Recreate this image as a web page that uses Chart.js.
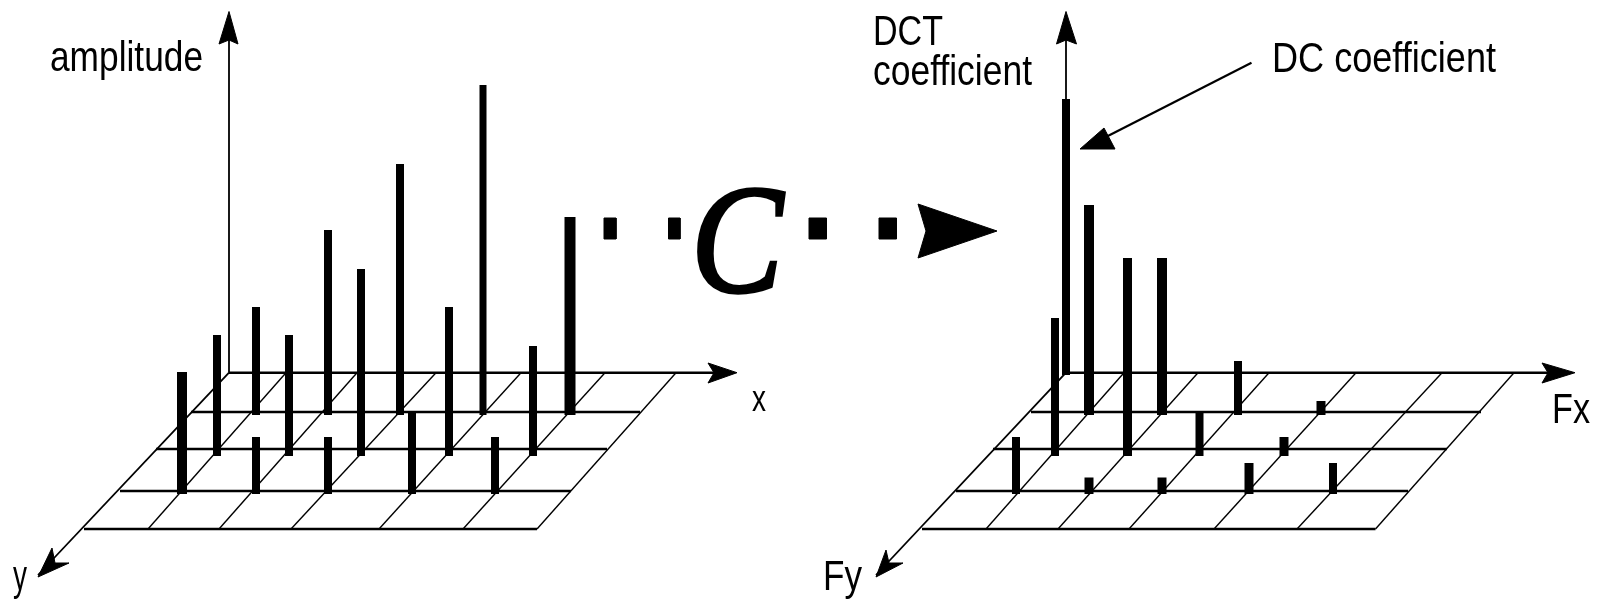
<!DOCTYPE html>
<html>
<head>
<meta charset="utf-8">
<style>
html,body{margin:0;padding:0;background:#fff;overflow:hidden}
canvas{display:block;filter:blur(0.7px)}
</style>
<script src="https://cdn.jsdelivr.net/npm/chart.js@4"></script>
</head>
<body>
<canvas id="c" width="1600" height="603"></canvas>
<script>
// Horizontal grid rows, shared by both plots
const gridRows = [372.7, 412, 449, 491, 529];

// Left plot (amplitude in x,y)
const leftRowStart = [229, 191, 156, 120, 84];
const leftRowEnd = [722, 640, 607, 571, 537];
const leftSlantBack = [286, 357, 436, 521, 605, 676];
const leftSlantFront = [148, 219, 291, 379, 463, 537];
const leftStemX = [182, 217, 256, 289, 328, 361, 400, 449, 483, 533, 570, 256, 328, 412, 495];
const leftStemTop = [372, 335, 307, 335, 230, 269, 164, 307, 85, 346, 217, 437, 437, 413, 437];
const leftStemBase = [494, 456, 415, 456, 415, 456, 415, 456, 415, 456, 415, 494, 494, 494, 494];
const leftStemWidth = [10, 8, 8, 8, 8, 8, 8, 8, 7, 8, 11, 8, 8, 8, 8];

// Right plot (DCT coefficients in Fx,Fy)
const rightRowStart = [1066, 1031, 993, 956, 922];
const rightRowEnd = [1555, 1481, 1447, 1408, 1375.5];
const rightSlantBack = [1124, 1198, 1269, 1356, 1442, 1514];
const rightSlantFront = [986, 1058, 1129, 1214, 1297, 1375.5];
const rightStemX = [1066, 1055, 1089, 1127.5, 1162, 1238, 1199.5, 1321, 1284, 1016, 1089, 1162, 1249, 1333];
const rightStemTop = [99, 318, 205, 258, 258, 361, 413, 401, 437, 437, 477.5, 477.5, 463, 463];
const rightStemBase = [375, 456, 415, 456, 415, 415, 456, 415, 456, 494, 494, 494, 494, 494];
const rightStemWidth = [8, 8, 10, 9, 10, 8, 8, 9, 9, 8, 9, 9, 9, 8];

// Arrow heads and axis lines
const axisLinesX = [[229, 229], [229, 38], [1066, 1066], [1066, 876], [1251.5, 1100]];
const axisLinesY = [[372.7, 30], [372.7, 575], [372.7, 30], [372.7, 575], [62.7, 140]];
const headShapesX = [
  [229, 219, 229, 238, 229], [737, 708, 714, 708, 737],
  [38, 52, 55, 69, 38],
  [1066, 1056.5, 1066, 1076.5, 1066], [1575, 1542, 1548, 1542, 1575],
  [876, 886, 889, 903, 876],
  [1080, 1104, 1115, 1080],
  [997, 918, 926, 918, 997]
];
const headShapesY = [
  [11.5, 44, 40, 44, 11.5], [372.7, 363, 372.7, 383, 372.7],
  [577, 548, 563, 563, 577],
  [11.5, 44, 40, 44, 11.5], [372.7, 363, 372.7, 383, 372.7],
  [577, 550, 563, 563, 577],
  [149, 128, 149, 149],
  [231, 204, 231, 258, 231]
];

// Dotted transform arrow
const dotX0 = [604, 668.5, 809, 879];
const dotX1 = [616, 680, 826.5, 896.5];
const dotY0 = [218, 218, 218, 218];
const dotY1 = [239, 239, 239, 239];

// Labels
const labelTexts = ["amplitude", "x", "y", "DCT", "coefficient", "DC coefficient", "Fx", "Fy"];
const labelX = [50, 752, 13, 873, 873, 1272, 1552, 823];
const labelY = [71, 411, 590, 45, 85, 72, 423, 590];
const labelW = [153, 14, 14, 70, 159, 224, 38, 39];
const labelFont = [42, 36, 42, 42, 42, 42, 42, 42];
const transformSymbol = "C";

const seg = (x0, y0, x1, y1, w) => ({
  data: [{x: x0, y: y0}, {x: x1, y: y1}],
  borderColor: '#000', borderWidth: w, pointRadius: 0, showLine: true, fill: false, tension: 0
});
const shape = (xs, ys) => ({
  data: xs.map((x, i) => ({x, y: ys[i]})),
  borderColor: '#000', backgroundColor: '#000', borderWidth: 1, pointRadius: 0, showLine: true, fill: 'shape', tension: 0
});

const datasets = [];
gridRows.forEach((y, i) => {
  datasets.push(seg(leftRowStart[i], y, leftRowEnd[i], y, 2.6));
  datasets.push(seg(rightRowStart[i], y, rightRowEnd[i], y, 2.6));
});
leftSlantBack.forEach((x, i) => datasets.push(seg(x, gridRows[0], leftSlantFront[i], gridRows[4], 1.4)));
rightSlantBack.forEach((x, i) => datasets.push(seg(x, gridRows[0], rightSlantFront[i], gridRows[4], 1.4)));
axisLinesX.forEach((xs, i) => datasets.push(seg(xs[0], axisLinesY[i][0], xs[1], axisLinesY[i][1], i === 4 ? 2.2 : 1.8)));
leftStemX.forEach((x, i) => datasets.push(seg(x, leftStemTop[i], x, leftStemBase[i], leftStemWidth[i])));
rightStemX.forEach((x, i) => datasets.push(seg(x, rightStemTop[i], x, rightStemBase[i], rightStemWidth[i])));
headShapesX.forEach((xs, i) => datasets.push(shape(xs, headShapesY[i])));
dotX0.forEach((x, i) => datasets.push(shape(
  [x, dotX1[i], dotX1[i], x, x],
  [dotY0[i], dotY0[i], dotY1[i], dotY1[i], dotY0[i]]
)));

const labelsPlugin = {
  id: 'labels',
  afterDatasetsDraw(chart) {
    const {ctx, scales: {x, y}} = chart;
    ctx.save();
    ctx.fillStyle = '#000';
    ctx.strokeStyle = '#000';
    ctx.textBaseline = 'alphabetic';
    ctx.textAlign = 'left';
    labelTexts.forEach((t, i) => {
      ctx.font = labelFont[i] + 'px "Liberation Sans"';
      ctx.fillText(t, x.getPixelForValue(labelX[i]), y.getPixelForValue(labelY[i]), labelW[i]);
    });
    ctx.font = 'italic 155px "Liberation Serif"';
    ctx.lineWidth = 3.5;
    const cx = x.getPixelForValue(691), cy = y.getPixelForValue(292);
    ctx.fillText(transformSymbol, cx, cy, 92);
    ctx.strokeText(transformSymbol, cx, cy, 92);
    ctx.restore();
  }
};

new Chart(document.getElementById('c'), {
  type: 'scatter',
  data: {datasets},
  plugins: [labelsPlugin],
  options: {
    responsive: false,
    animation: false,
    layout: {padding: 0},
    plugins: {legend: {display: false}, tooltip: {enabled: false}, title: {display: false}},
    scales: {
      x: {type: 'linear', min: 0, max: 1600, display: false},
      y: {type: 'linear', min: 0, max: 603, reverse: true, display: false}
    }
  }
});
</script>
</body>
</html>
